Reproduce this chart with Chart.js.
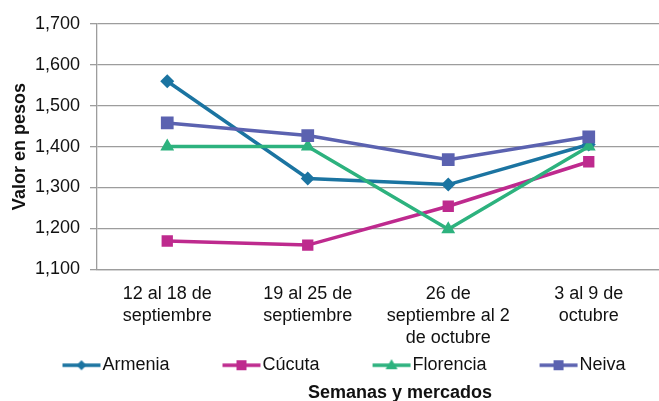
<!DOCTYPE html>
<html>
<head>
<meta charset="utf-8">
<script src="https://cdn.jsdelivr.net/npm/chart.js@4/dist/chart.umd.min.js"></script>
<style>
  html, body { margin: 0; padding: 0; background: #fff; }
</style>
</head>
<body>
<canvas id="graph" width="659" height="401"></canvas>
<script>
const weeks = [
    ['12 al 18 de', 'septiembre'],
    ['19 al 25 de', 'septiembre'],
    ['26 de', 'septiembre al 2', 'de octubre'],
    ['3 al 9 de', 'octubre']
];
const markets = ['Armenia', 'Cúcuta', 'Florencia', 'Neiva'];
const armenia = [1560, 1322, 1307, 1405];
const cucuta = [1169, 1159, 1254, 1363];
const florencia = [1400, 1400, 1198, 1400];
const neiva = [1458, 1427, 1368, 1424];
const yTicks = [1100, 1200, 1300, 1400, 1500, 1600, 1700];

const colors = ['#1B74A1', '#BE2A8E', '#2DB27E', '#5B62B0'];
const styles = ['rectRot', 'rect', 'triangle', 'rect'];
const radii = [7, 8, 8, 9];

Chart.defaults.font.family = '"Liberation Sans", Arial, sans-serif';
Chart.defaults.font.size = 18;
Chart.defaults.color = '#111';

// legend icon: short line with the marker in the middle, sitting at the right
// of a wide box so the items get a big gap between them
const boxW = 84;
const iconW = 102;
function legendIcon(i) {
    const c = document.createElement('canvas');
    c.width = iconW;
    c.height = 20;
    const g = c.getContext('2d');
    g.strokeStyle = colors[i];
    g.fillStyle = colors[i];
    g.lineWidth = 3.5;
    g.beginPath();
    g.moveTo(iconW - 40, 10);
    g.lineTo(iconW - 2, 10);
    g.stroke();
    const cx = iconW - 21, cy = 10, r = 5;
    g.beginPath();
    if (styles[i] === 'rectRot') {
        g.moveTo(cx, cy - r); g.lineTo(cx + r, cy); g.lineTo(cx, cy + r); g.lineTo(cx - r, cy);
    } else if (styles[i] === 'triangle') {
        g.moveTo(cx, cy - r - 1); g.lineTo(cx + r + 1, cy + r - 1); g.lineTo(cx - r - 1, cy + r - 1);
    } else {
        g.rect(cx - r, cy - r, 2 * r, 2 * r);
    }
    g.closePath();
    g.fill();
    return c;
}
const icons = markets.map((m, i) => legendIcon(i));

const series = [armenia, cucuta, florencia, neiva];
const datasets = markets.map((name, i) => ({
    label: name,
    data: series[i],
    borderColor: colors[i],
    backgroundColor: colors[i],
    borderWidth: 3.5,
    pointStyle: styles[i],
    pointRadius: radii[i],
    pointHoverRadius: radii[i],
    pointBorderWidth: 0,
    tension: 0,
    order: markets.length - i
}));

// nudge legend and bottom title like the original
const placeBlocks = {
    id: 'placeBlocks',
    afterLayout(chart) {
        chart.legend.left -= 24;
        chart.legend.top += 3;
        const t = chart.titleBlock;
        const cx = (chart.chartArea.left + chart.chartArea.right) / 2 + 22;
        t.left = 2 * cx - t.right;
        t.top += 2;
    }
};

new Chart(document.querySelector('#graph'), {
    type: 'line',
    data: { labels: weeks, datasets: datasets },
    plugins: [placeBlocks],
    options: {
        responsive: false,
        animation: false,
        layout: { autoPadding: false, padding: { top: 24, right: 0, left: 0, bottom: 0 } },
        scales: {
            x: {
                offset: true,
                afterFit: (scale) => { scale.height = 84; },
                grid: { display: false, drawTicks: false },
                border: { display: true, color: '#9d9d9d', width: 1.3 },
                ticks: { padding: 14, maxRotation: 0, autoSkip: false, font: { size: 18, lineHeight: 1.22 } }
            },
            y: {
                min: yTicks[0],
                max: yTicks[yTicks.length - 1],
                afterBuildTicks: (scale) => { scale.ticks = yTicks.map(v => ({ value: v })); },
                afterFit: (scale) => { scale.width = 97; },
                grid: { color: '#9d9d9d', lineWidth: 1.3, tickLength: 7 },
                border: { color: '#9d9d9d', width: 1.3 },
                ticks: {
                    padding: 10,
                    font: { size: 18 },
                    callback: (v) => v.toLocaleString('en-US')
                },
                title: {
                    display: true,
                    text: 'Valor en pesos',
                    font: { size: 18, weight: 'bold', lineHeight: 1.2 },
                    padding: { top: 9, bottom: 0 }
                }
            }
        },
        plugins: {
            legend: {
                position: 'bottom',
                labels: {
                    usePointStyle: true,
                    pointStyleWidth: boxW,
                    padding: 0,
                    font: { size: 18 },
                    sort: (a, b) => a.datasetIndex - b.datasetIndex,
                    generateLabels: (chart) => {
                        const items = Chart.defaults.plugins.legend.labels.generateLabels(chart);
                        items.forEach(it => { it.pointStyle = icons[it.datasetIndex]; });
                        return items;
                    }
                }
            },
            title: {
                display: true,
                position: 'bottom',
                text: 'Semanas y mercados',
                color: '#111',
                font: { size: 18, weight: 'bold', lineHeight: 1.1 },
                padding: { top: 0, bottom: 0 }
            },
            tooltip: { enabled: false }
        }
    }
});
</script>
</body>
</html>
